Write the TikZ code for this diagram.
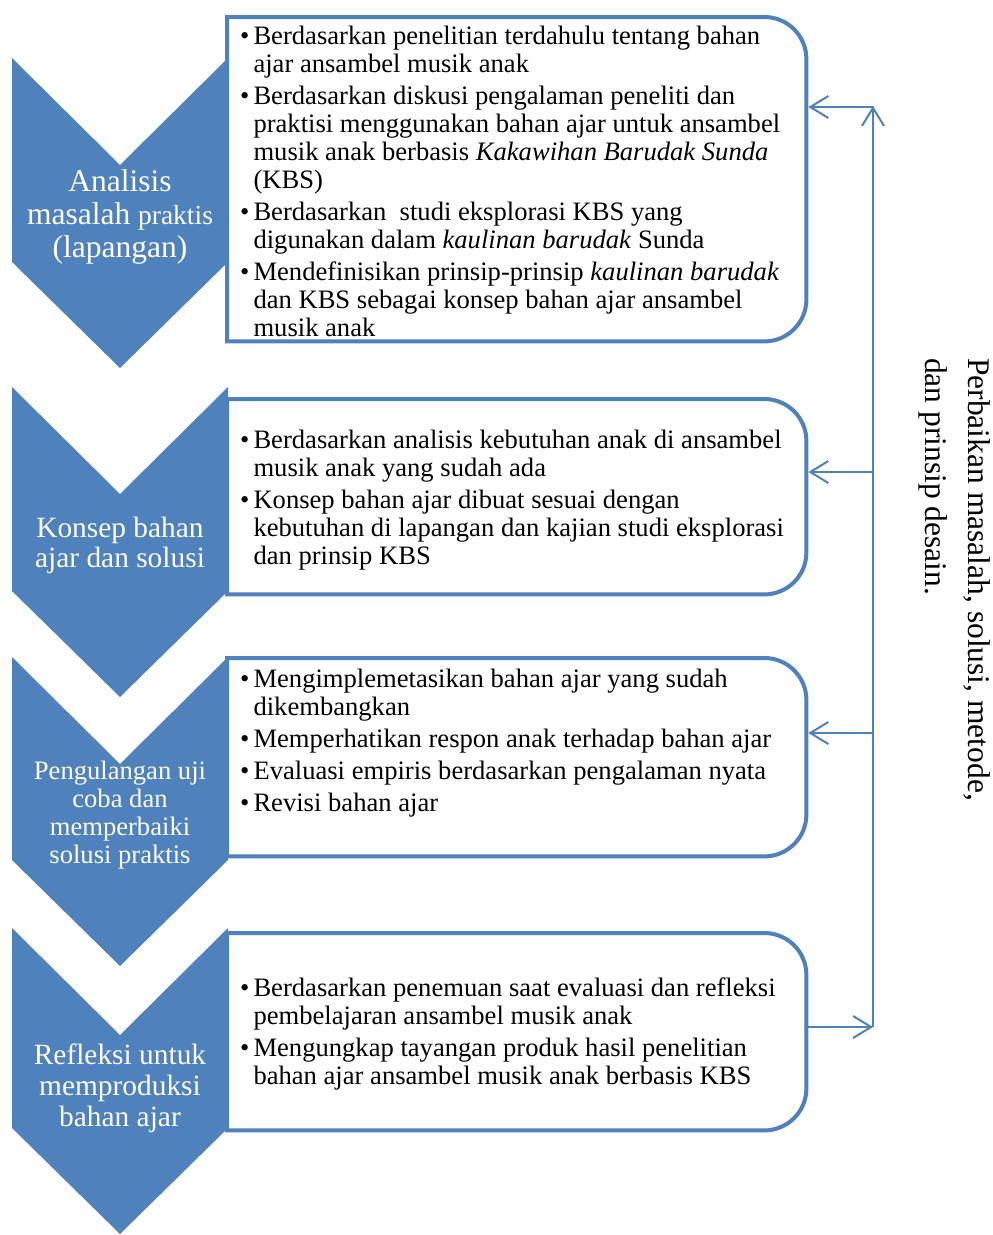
\documentclass[tikz,border=0pt]{standalone}
\usepackage{fontspec}
\setmainfont{Liberation Serif}
\usetikzlibrary{arrows.meta}
\definecolor{cblue}{HTML}{4F81BD}
\newcommand{\roundbox}[1]{\draw[border] (#1.north west) -- ([xshift=-42pt]#1.north east) arc[start angle=90,end angle=0,radius=42pt] -- ([yshift=42pt]#1.south east) arc[start angle=0,end angle=-90,radius=42pt] -- (#1.south west) -- cycle;}
\newcommand{\chevronpath}[2]{\fill[chev] (12,#1) -- (120,#1+107) -- (228,#1) -- (228,#2) -- (120,#2+106) -- (12,#2) -- cycle;}
\begin{document}
\begin{tikzpicture}[x=1pt,y=-1pt,
  chev/.style={fill=cblue},
  boxnode/.style={draw=none, inner sep=0pt, minimum width=579pt, anchor=north west},
  border/.style={draw=cblue, line width=4pt, fill=white},
  chevtext/.style={text=white, align=center, inner sep=0pt},
  bodytext/.style={inner sep=0pt, anchor=base west, text=black, font=\fontsize{26.6}{28}\selectfont},
  conn/.style={draw=cblue, line width=2pt, -{Straight Barb[length=18pt,width=22pt]}}]
\useasboundingbox (0,0) rectangle (993,1235);
% chevrons
\chevronpath{58}{262}
\chevronpath{387}{591}
\chevronpath{657}{860}
\chevronpath{928}{1128}
% boxes
\node[boxnode, minimum height=324pt] (b1) at (227,17) {};
\node[boxnode, minimum height=195pt] (b2) at (227,399) {};
\node[boxnode, minimum height=198pt] (b3) at (227,658) {};
\node[boxnode, minimum height=197pt] (b4) at (227,933) {};
\roundbox{b1}
\roundbox{b2}
\roundbox{b3}
\roundbox{b4}
% chevron labels
\node[chevtext, font=\fontsize{31.5}{33}\selectfont] (c1) at (120,217) {Analisis\\ masalah {\fontsize{27.5}{33}\selectfont praktis}\\ (lapangan)};
\node[chevtext, font=\fontsize{29.4}{30}\selectfont] (c2) at (120,545) {Konsep bahan\\ ajar dan solusi};
\node[chevtext, font=\fontsize{26.6}{28}\selectfont] (c3) at (120,815.5) {Pengulangan uji\\ coba dan\\ memperbaiki\\ solusi praktis};
\node[chevtext, font=\fontsize{29.4}{31}\selectfont] (c4) at (120,1088) {Refleksi untuk\\ memproduksi\\ bahan ajar};
% box texts
\node[bodytext] (t1) at (240,44) {\begin{tabular}[t]{@{}l@{\hspace{4pt}}l@{}}
\textbullet & Berdasarkan penelitian terdahulu tentang bahan\\
 & ajar ansambel musik anak\\[4pt]
\textbullet & Berdasarkan diskusi pengalaman peneliti dan\\
 & praktisi menggunakan bahan ajar untuk ansambel\\
 & musik anak berbasis \textit{Kakawihan Barudak Sunda}\\
 & (KBS)\\[4pt]
\textbullet & Berdasarkan\ \ studi eksplorasi KBS yang\\
 & digunakan dalam \textit{kaulinan barudak} Sunda\\[4pt]
\textbullet & Mendefinisikan prinsip-prinsip \textit{kaulinan barudak}\\
 & dan KBS sebagai konsep bahan ajar ansambel\\
 & musik anak
\end{tabular}};
\node[bodytext] (t2) at (240,448) {\begin{tabular}[t]{@{}l@{\hspace{4pt}}l@{}}
\textbullet & Berdasarkan analisis kebutuhan anak di ansambel\\
 & musik anak yang sudah ada\\[4pt]
\textbullet & Konsep bahan ajar dibuat sesuai dengan\\
 & kebutuhan di lapangan dan kajian studi eksplorasi\\
 & dan prinsip KBS
\end{tabular}};
\node[bodytext] (t3) at (240,687) {\begin{tabular}[t]{@{}l@{\hspace{4pt}}l@{}}
\textbullet & Mengimplemetasikan bahan ajar yang sudah\\
 & dikembangkan\\[4pt]
\textbullet & Memperhatikan respon anak terhadap bahan ajar\\[4pt]
\textbullet & Evaluasi empiris berdasarkan pengalaman nyata\\[4pt]
\textbullet & Revisi bahan ajar
\end{tabular}};
\node[bodytext] (t4) at (240,996) {\begin{tabular}[t]{@{}l@{\hspace{4pt}}l@{}}
\textbullet & Berdasarkan penemuan saat evaluasi dan refleksi\\
 & pembelajaran ansambel musik anak\\[4pt]
\textbullet & Mengungkap tayangan produk hasil penelitian\\
 & bahan ajar ansambel musik anak berbasis KBS
\end{tabular}};
% feedback connectors
\coordinate (a1) at (873,107);
\coordinate (a2) at (873,472);
\coordinate (a3) at (873,733);
\coordinate (a4) at (873,1027);
\draw[conn] ([xshift=2pt]b4.east |- a4) -- (a4);
\draw[conn] (a4) -- ([yshift=1pt]a1);
\draw[conn] ([xshift=1pt]a1) -- ([xshift=2pt]b1.east |- a1);
\draw[conn] ([xshift=1pt]a2) -- ([xshift=2pt]b2.east |- a2);
\draw[conn] ([xshift=1pt]a3) -- ([xshift=2pt]b3.east |- a3);
% rotated label
\node[rotate=-90, anchor=north west, align=left, inner sep=0pt, font=\fontsize{31.5}{43}\selectfont] (fb) at (991,358) {Perbaikan masalah, solusi, metode,\\ dan prinsip desain.};
\end{tikzpicture}
\end{document}
